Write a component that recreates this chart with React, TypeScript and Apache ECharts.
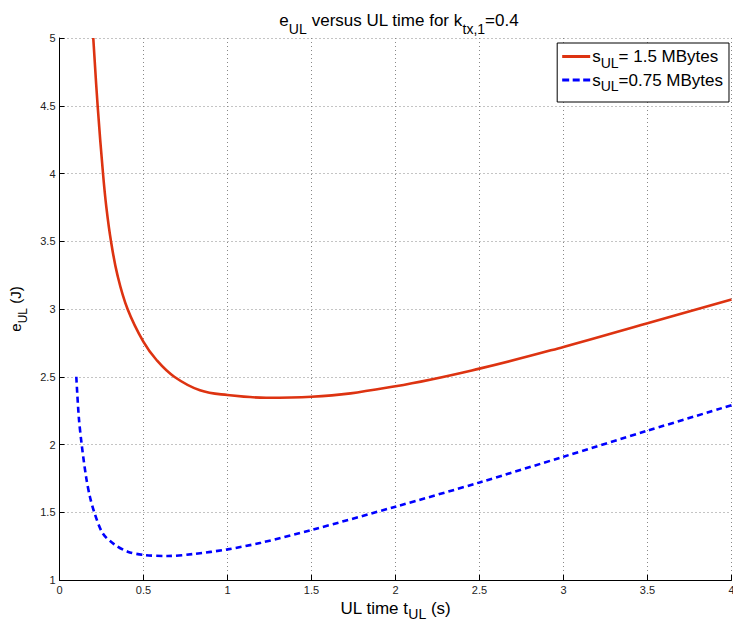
import React, { useEffect, useRef } from "react";
import * as echarts from "echarts";

const redT = [0.201, 0.227, 0.259, 0.279, 0.3065, 0.345, 0.405, 0.499, 0.58, 0.683, 0.836, 1.0, 1.23, 1.5, 2.0, 2.5, 3.0, 3.5, 4.0];
const redE = [5.0, 4.5, 4.0, 3.75, 3.5, 3.25, 3.0, 2.759, 2.62, 2.5, 2.4, 2.365, 2.345, 2.352, 2.43, 2.56, 2.72, 2.895, 3.07];

const blueT = [0.1, 0.115, 0.132, 0.158, 0.18, 0.207, 0.257, 0.326, 0.406, 0.5, 0.644, 0.8, 1.0, 1.2, 1.5, 2.0, 2.5, 3.0, 3.5, 4.0];
const blueE = [2.5, 2.2, 2.0, 1.763, 1.62, 1.5, 1.345, 1.263, 1.209, 1.185, 1.177, 1.192, 1.226, 1.275, 1.369, 1.541, 1.72, 1.91, 2.102, 2.29];

const xTicks = { min: 0, max: 4, interval: 0.5 };
const yTicks = { min: 1, max: 5, interval: 0.5 };

const legendNames = ["s_UL= 1.5 MBytes", "s_UL=0.75 MBytes"];

const FONT = "'Liberation Sans', Arial, Helvetica, sans-serif";

export default function App() {
  const ref = useRef<HTMLDivElement>(null);
  useEffect(() => {
    document.body.style.margin = "0";
    const chart = echarts.init(ref.current!, null, { renderer: "svg" });
    const subRich = (size: number, lh: number, drop = -2) => ({
      n: { fontSize: size, fontFamily: FONT, color: "#000", lineHeight: lh, verticalAlign: "middle" },
      sub: { fontSize: size - 3, fontFamily: FONT, color: "#000", lineHeight: lh, verticalAlign: "bottom", padding: [0, 0, drop, 0] },
    });
    chart.setOption({
      animation: false,
      backgroundColor: "#fff",
      textStyle: { fontFamily: FONT },
      title: {
        text: "{n|e}{sub|UL}{n| versus UL time for k}{sub|tx,1}{n|=0.4}",
        left: 394,
        textAlign: "center",
        top: 2,
        textStyle: { fontWeight: "normal", rich: subRich(17, 27) as any },
      },
      grid: { left: 59.5, right: 1.5, top: 38, bottom: 41, containLabel: false, outerBoundsMode: "none" } as any,
      legend: {
        right: 4,
        top: 43,
        orient: "vertical",
        backgroundColor: "#fff",
        borderColor: "#000",
        borderWidth: 1,
        borderRadius: 0,
        padding: [5, 6, 9, 5],
        itemGap: 2,
        itemWidth: 28,
        itemHeight: 3,
        data: [
          { name: legendNames[0], icon: "rect" },
          { name: legendNames[1], icon: "path://M0,0h7v3h-7z M10.5,0h7v3h-7z M21,0h7v3h-7z" },
        ],
        formatter: (name: string) => {
          const rest = name.slice(4);
          return "{n|s}{sub|UL}{n|" + rest + "}";
        },
        textStyle: { padding: [0, 0, 0, -3], rich: subRich(17, 22) as any },
      },
      xAxis: {
        type: "value",
        min: xTicks.min,
        max: xTicks.max,
        interval: xTicks.interval,
        name: "{n|UL time t}{sub|UL}{n| (s)}",
        nameLocation: "middle",
        nameGap: 9,
        nameTextStyle: { rich: subRich(17, 26, 0) as any },
        axisLine: { onZero: false, lineStyle: { color: "#000", width: 1 } },
        axisTick: { inside: true, length: 5, lineStyle: { color: "#000" } },
        axisLabel: { color: "#222", fontSize: 11, fontFamily: FONT, margin: 4 },
        splitLine: { show: true, lineStyle: { color: "#888", type: [1, 3], width: 1 } },
      },
      yAxis: {
        type: "value",
        min: yTicks.min,
        max: yTicks.max,
        interval: yTicks.interval,
        name: "{n|e}{sub|UL}{n| (J)}",
        nameLocation: "middle",
        nameGap: 31,
        nameRotate: 90,
        nameTextStyle: { rich: subRich(15, 24) as any },
        axisLine: { show: true, onZero: false, lineStyle: { color: "#000", width: 1 } },
        axisTick: { show: true, inside: true, length: 5, lineStyle: { color: "#000" } },
        axisLabel: { color: "#222", fontSize: 11, fontFamily: FONT, margin: 4 },
        splitLine: { show: true, lineStyle: { color: "#888", type: [1, 3], width: 1 } },
      },
      series: [
        {
          name: legendNames[0],
          type: "line",
          data: redT.map((t, i) => [t, redE[i]]),
          showSymbol: false,
          symbol: "none",
          smooth: 0.4,
          lineStyle: { color: "#dd3311", width: 2.6 },
          itemStyle: { color: "#dd3311" },
        },
        {
          name: legendNames[1],
          type: "line",
          data: blueT.map((t, i) => [t, blueE[i]]),
          showSymbol: false,
          symbol: "none",
          smooth: 0.3,
          lineStyle: { color: "#0000ff", width: 2.6, type: [6, 4] },
          itemStyle: { color: "#0000ff" },
        },
      ],
    });
    return () => chart.dispose();
  }, []);
  return <div ref={ref} style={{ position: "absolute", left: 0, top: 0, width: 733, height: 621 }} />;
}
